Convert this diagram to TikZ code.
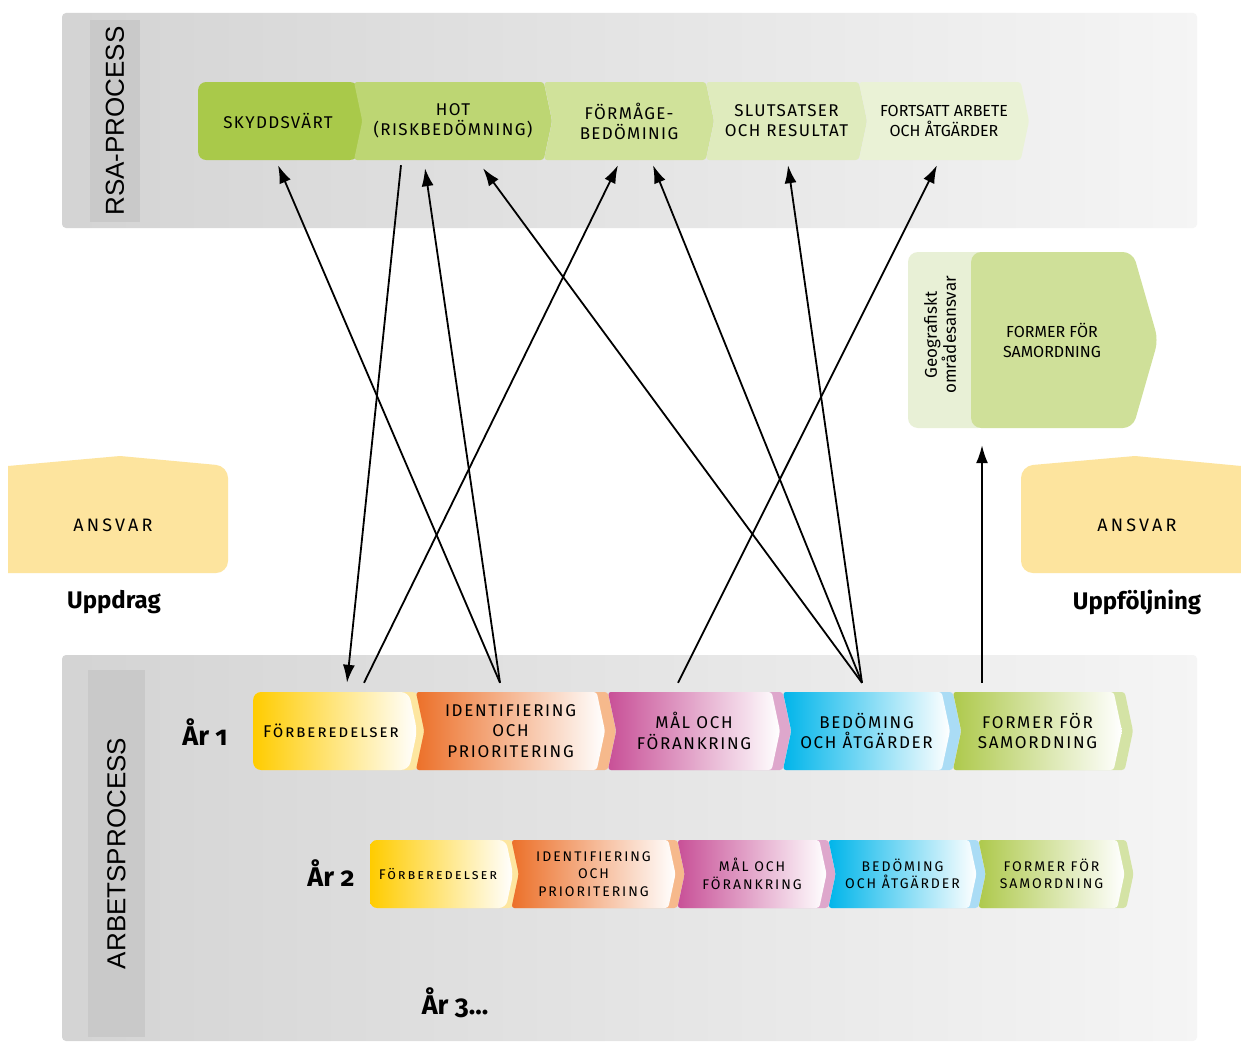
\documentclass[tikz,border=0pt]{standalone}
\usepackage{fontspec}
\setmainfont{Fira Sans}
\newfontfamily\rsafont[LetterSpace=8]{Fira Sans}
\newfontfamily\rowfont[LetterSpace=10]{Fira Sans}
\newfontfamily\smallrowfont[LetterSpace=14]{Fira Sans}
\newfontfamily\ansvarfont[LetterSpace=18]{Fira Sans}
\newfontfamily\yearfont[Numbers=OldStyle]{Fira Sans}
\newfontfamily\panelfont{Liberation Sans}
\usetikzlibrary{shapes.symbols, arrows.meta, positioning}
\definecolor{skyddgreen}{RGB}{169,201,74}
\definecolor{hotgreen}{RGB}{189,214,115}
\definecolor{formgreen}{RGB}{208,226,154}
\definecolor{slutgreen}{RGB}{223,235,189}
\definecolor{fortgreen}{RGB}{234,242,214}
\definecolor{geogreen}{RGB}{207,224,153}
\definecolor{geostrip}{RGB}{232,240,214}
\definecolor{ansvaryellow}{RGB}{253,228,158}
\definecolor{forbyellow}{RGB}{255,204,0}
\definecolor{forbband}{RGB}{253,230,160}
\definecolor{identorange}{RGB}{236,112,41}
\definecolor{identband}{RGB}{246,185,140}
\definecolor{malpink}{RGB}{200,80,151}
\definecolor{malband}{RGB}{222,167,204}
\definecolor{bedblue}{RGB}{0,181,234}
\definecolor{bedband}{RGB}{170,220,245}
\definecolor{formlime}{RGB}{174,201,76}
\definecolor{formband}{RGB}{212,227,165}

\begin{document}
\begin{tikzpicture}[x=1pt, y=-1pt,
  panel/.style={rectangle, rounded corners=4pt, left color=black!17, middle color=black!6, right color=black!4},
  strip/.style={rectangle, fill=black!21, rotate=90, inner sep=0pt, font=\panelfont\fontsize{26}{26}\selectfont},
  seg/.style={signal, signal to=east, signal pointer angle=156, inner sep=0pt, rounded corners=3pt, align=center},
  rsaseg/.style={seg, minimum height=78pt, font=\rsafont\fontsize{17}{20}\selectfont},
  rowseg/.style={seg, minimum height=78pt, font=\rowfont\fontsize{17}{20.5}\selectfont},
  smallseg/.style={seg, minimum height=68pt, font=\smallrowfont\fontsize{14}{17.5}\selectfont},
  year/.style={font=\yearfont\bfseries\fontsize{27}{27}\selectfont},
  arr/.style={-{Latex[length=18pt,width=12pt]}, line width=1.8pt}]
\useasboundingbox[fill=white] (0,0) rectangle (1241,1041);

% panels
\node[panel, minimum width=1135pt, minimum height=215pt] (rsapanel) at (629.5,120.5) {};
\node[strip, minimum width=202pt, minimum height=50pt] (rsastrip) at (115,121) {RSA-PROCESS};
\node[panel, minimum width=1135pt, minimum height=386pt] (arbpanel) at (629.5,848) {};
\node[strip, minimum width=367pt, minimum height=57pt] (arbstrip) at (116.5,853.5) {ARBETSPROCESS};

% RSA-process
\node[rsaseg, fill=skyddgreen, minimum width=168pt, rounded corners=8pt] (skydd) at (278,121) {SKYDDSVÄRT};
\node[rsaseg, signal from=west, fill=hotgreen, minimum width=198pt] (hot) at (453,121) {HOT\\(RISKBEDÖMNING)};
\node[rsaseg, signal from=west, fill=formgreen, minimum width=170pt] (formage) at (629,121) {FÖRMÅGE-\\BEDÖMINIG};
\node[rsaseg, signal from=west, fill=slutgreen, minimum width=161pt] (slutsats) at (786.5,121) {SLUTSATSER\\OCH RESULTAT};
\node[rsaseg, signal from=west, fill=fortgreen, minimum width=170pt, font=\fontsize{16}{20}\selectfont] (fortsatt) at (944,121) {FORTSATT ARBETE\\OCH ÅTGÄRDER};

% geografiskt områdesansvar
\node[rectangle, fill=geostrip, rounded corners=10pt, minimum width=80pt, minimum height=176pt] (geoback) at (948,340) {};
\node[seg, signal pointer angle=148, fill=geogreen, rounded corners=10pt, minimum width=187pt, minimum height=176pt, font=\fontsize{16}{20}\selectfont] (geomain) at (1052,340) {FORMER FÖR\\SAMORDNING};
\node[rotate=90, align=center, font=\fontsize{17}{19}\selectfont] (geotext) at (940,335) {Geografiskt\\områdesansvar};

% ansvar
\fill[ansvaryellow] (8,573) -- (8,466) -- (120,456) [rounded corners=12pt] -- (228,466) -- (228,573) [sharp corners] -- cycle;
\node[font=\ansvarfont\fontsize{18}{18}\selectfont] (ansvarleft) at (113,525) {ANSVAR};
\node[font=\bfseries\fontsize{24}{24}\selectfont] (uppdrag) at (114,602) {Uppdrag};
\fill[ansvaryellow] (1241,573) -- (1241,466) -- (1135,456) [rounded corners=12pt] -- (1021,466) -- (1021,573) [sharp corners] -- cycle;
\node[font=\ansvarfont\fontsize{18}{18}\selectfont] (ansvarright) at (1137,525) {ANSVAR};
\node[font=\bfseries\fontsize{24}{24}\selectfont] (uppfoljning) at (1137,602) {Uppföljning};

% år 1
\node[year] (year1) at (205,732) {År 1};
\node[rowseg, fill=forbband, minimum width=175pt, rounded corners=8pt] (forb1bg) at (336.5,731) {};
\node[rowseg, left color=forbyellow, middle color=forbyellow!85, right color=white, minimum width=164pt, rounded corners=8pt] (forb1) at (331,731) {\scshape Förberedelser};
\node[rowseg, signal from=west, fill=identband, minimum width=200pt] (ident1bg) at (516,731) {};
\node[rowseg, signal from=west, left color=identorange, middle color=identorange!85, right color=white, minimum width=189pt] (ident1) at (510.5,731) {IDENTIFIERING\\OCH\\PRIORITERING};
\node[rowseg, signal from=west, fill=malband, minimum width=183pt] (mal1bg) at (699.5,731) {};
\node[rowseg, signal from=west, left color=malpink, middle color=malpink!85, right color=white, minimum width=172pt] (mal1) at (694,731) {MÅL OCH\\FÖRANKRING};
\node[rowseg, signal from=west, fill=bedband, minimum width=178pt] (bed1bg) at (872,731) {};
\node[rowseg, signal from=west, left color=bedblue, middle color=bedblue!85, right color=white, minimum width=167pt] (bed1) at (866.5,731) {BEDÖMING\\OCH ÅTGÄRDER};
\node[rowseg, signal from=west, fill=formband, minimum width=180pt] (form1bg) at (1043,731) {};
\node[rowseg, signal from=west, left color=formlime, middle color=formlime!85, right color=white, minimum width=169pt] (form1) at (1037.5,731) {FORMER FÖR\\SAMORDNING};

% år 2
\node[year] (year2) at (331,873) {År 2};
\node[smallseg, fill=forbband, minimum width=152pt, rounded corners=7pt] (forb2bg) at (442.5,874) {};
\node[smallseg, left color=forbyellow, middle color=forbyellow!85, right color=white, minimum width=143pt, rounded corners=7pt] (forb2) at (438,874) {\scshape Förberedelser};
\node[smallseg, signal from=west, fill=identband, minimum width=173pt] (ident2bg) at (598,874) {};
\node[smallseg, signal from=west, left color=identorange, middle color=identorange!85, right color=white, minimum width=164pt] (ident2) at (593.5,874) {IDENTIFIERING\\OCH\\PRIORITERING};
\node[smallseg, signal from=west, fill=malband, minimum width=158pt] (mal2bg) at (756.5,874) {};
\node[smallseg, signal from=west, left color=malpink, middle color=malpink!85, right color=white, minimum width=149pt] (mal2) at (752,874) {MÅL OCH\\FÖRANKRING};
\node[smallseg, signal from=west, fill=bedband, minimum width=157pt] (bed2bg) at (907,874) {};
\node[smallseg, signal from=west, left color=bedblue, middle color=bedblue!85, right color=white, minimum width=148pt] (bed2) at (902.5,874) {BEDÖMING\\OCH ÅTGÄRDER};
\node[smallseg, signal from=west, fill=formband, minimum width=155pt] (form2bg) at (1056,874) {};
\node[smallseg, signal from=west, left color=formlime, middle color=formlime!85, right color=white, minimum width=146pt] (form2) at (1051.5,874) {FORMER FÖR\\SAMORDNING};

% år 3
\node[year] (year3) at (455,1003) {År 3...};

% arrows between the processes
\draw[arr] ([xshift=-10.5pt,yshift=9pt]ident1.north) -- ([yshift=-5pt]skydd.south);
\draw[arr] ([xshift=-52pt,yshift=-5pt]hot.south) -- ([xshift=16pt,yshift=9pt]forb1.north);
\draw[arr] ([xshift=-10.5pt,yshift=9pt]ident1.north) -- ([xshift=-28pt,yshift=-8pt]hot.south);
\draw[arr] ([xshift=-4.5pt,yshift=9pt]bed1.north) -- ([xshift=30pt,yshift=-8pt]hot.south);
\draw[arr] ([xshift=33pt,yshift=9pt]forb1.north) -- ([xshift=-11pt,yshift=-5pt]formage.south);
\draw[arr] ([xshift=-4.5pt,yshift=9pt]bed1.north) -- ([xshift=24pt,yshift=-5pt]formage.south);
\draw[arr] ([xshift=-4.5pt,yshift=9pt]bed1.north) -- ([xshift=1.5pt,yshift=-5pt]slutsats.south);
\draw[arr] ([xshift=-16pt,yshift=9pt]mal1.north) -- ([xshift=-7pt,yshift=-5pt]fortsatt.south);
\draw[arr] ([xshift=-55.5pt,yshift=9pt]form1.north) -- ([xshift=-70pt,yshift=-17pt]geomain.south);
\end{tikzpicture}
\end{document}
